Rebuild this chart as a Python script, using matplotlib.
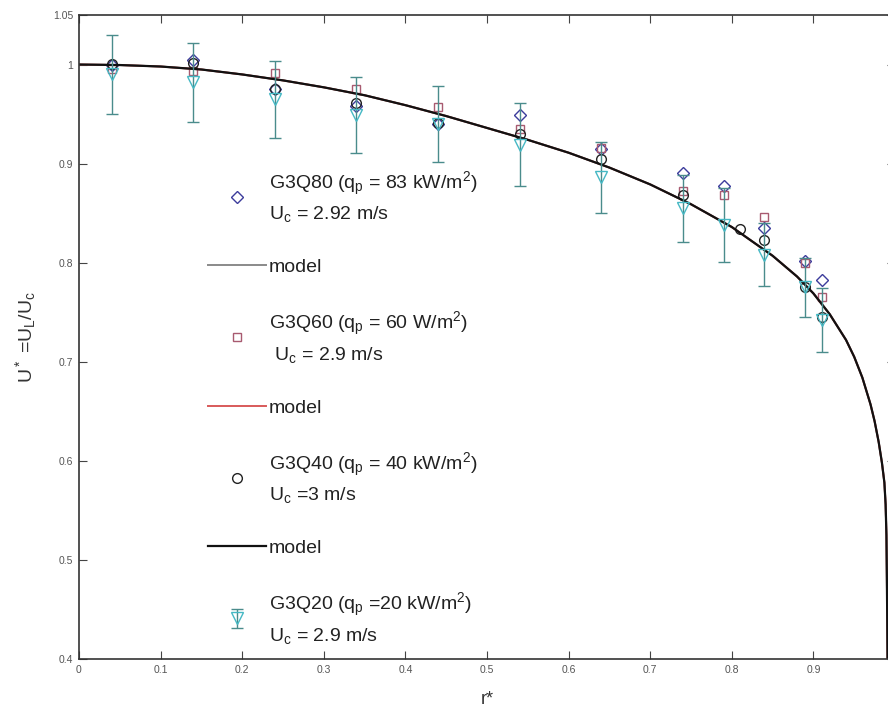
#!/usr/bin/env python3
"""Normalised liquid velocity profile U* against r* for four heat fluxes."""

import matplotlib

matplotlib.use("Agg")

import matplotlib.pyplot as plt

r_q80 = [0.04, 0.14, 0.24, 0.34, 0.44, 0.54, 0.64, 0.74, 0.79, 0.84, 0.89, 0.91]
u_q80 = [1.000, 1.005, 0.975, 0.958, 0.940, 0.949, 0.915, 0.891, 0.877, 0.835, 0.802, 0.783]

r_q60 = [0.04, 0.14, 0.24, 0.34, 0.44, 0.54, 0.64, 0.74, 0.79, 0.84, 0.89, 0.91]
u_q60 = [0.995, 0.993, 0.991, 0.975, 0.957, 0.935, 0.916, 0.872, 0.868, 0.846, 0.800, 0.765]

r_q40 = [0.04, 0.14, 0.24, 0.34, 0.44, 0.54, 0.64, 0.74, 0.81, 0.84, 0.89, 0.91]
u_q40 = [1.001, 1.002, 0.975, 0.961, 0.941, 0.930, 0.905, 0.868, 0.834, 0.823, 0.775, 0.745]

r_q20 = [0.04, 0.14, 0.24, 0.34, 0.44, 0.54, 0.64, 0.74, 0.79, 0.84, 0.89, 0.91]
u_q20 = [0.990, 0.982, 0.965, 0.949, 0.940, 0.919, 0.886, 0.855, 0.838, 0.808, 0.775, 0.742]
err_q20 = [0.040, 0.040, 0.039, 0.038, 0.038, 0.042, 0.036, 0.034, 0.037, 0.032, 0.030, 0.032]

# Model curve, sampled off the figure (same curve for all three cases)
r_model = [0.0, 0.05, 0.1, 0.15, 0.2, 0.25, 0.3, 0.35, 0.4, 0.45, 0.5, 0.55, 0.6, 0.65,
           0.7, 0.75, 0.8, 0.85, 0.88, 0.9, 0.92, 0.94, 0.95, 0.96, 0.97, 0.975, 0.98,
           0.984, 0.987, 0.9885, 0.9895, 0.990, 0.9905, 0.991]
u_model = [1.000, 0.9995, 0.998, 0.995, 0.990, 0.984, 0.977, 0.969, 0.959, 0.948,
           0.936, 0.924, 0.911, 0.896, 0.879, 0.859, 0.836, 0.807, 0.786, 0.769,
           0.748, 0.722, 0.705, 0.684, 0.657, 0.640, 0.619, 0.598, 0.578, 0.556,
           0.525, 0.485, 0.440, 0.380]

labels = [
    "G3Q80 (q$_p$ = 83 kW/m$^2$)\nU$_c$ = 2.92 m/s",
    "G3Q60 (q$_p$ = 60 W/m$^2$)\n U$_c$ = 2.9 m/s",
    "G3Q40 (q$_p$ = 40 kW/m$^2$)\nU$_c$ =3 m/s",
    "G3Q20 (q$_p$ =20 kW/m$^2$)\nU$_c$ = 2.9 m/s",
]

x_ticks = [0, 0.1, 0.2, 0.3, 0.4, 0.5, 0.6, 0.7, 0.8, 0.9]
y_ticks = [0.4, 0.5, 0.6, 0.7, 0.8, 0.9, 1.0, 1.05]
y_tick_labels = ["0.4", "0.5", "0.6", "0.7", "0.8", "0.9", "1", "1.05"]

plt.rcParams["font.family"] = ["Liberation Sans", "DejaVu Sans"]
plt.rcParams["mathtext.fontset"] = "custom"
plt.rcParams["mathtext.rm"] = "Liberation Sans"
plt.rcParams["mathtext.it"] = "Liberation Sans"
plt.rcParams["mathtext.default"] = "regular"

fig = plt.figure(figsize=(8.88, 7.09), dpi=100)
# the right spine sits just past the image edge, as in the cropped original
ax = fig.add_axes([79 / 888, 50 / 709, (895 - 79) / 888, (659 - 15) / 709])

h80, = ax.plot(r_q80, u_q80, linestyle="none", marker="D", markersize=6,
               markerfacecolor="none", markeredgecolor="#3c3c9c", markeredgewidth=1.0)
m1, = ax.plot(r_model, u_model, color="#8a8a8a", linewidth=1.4)
h60, = ax.plot(r_q60, u_q60, linestyle="none", marker="s", markersize=6,
               markerfacecolor="none", markeredgecolor="#a85a70", markeredgewidth=1.0)
m2, = ax.plot(r_model, u_model, color="#d85a5a", linewidth=1.4)
h40, = ax.plot(r_q40, u_q40, linestyle="none", marker="o", markersize=7,
               markerfacecolor="none", markeredgecolor="#222222", markeredgewidth=1.0)
m3, = ax.plot(r_model, u_model, color="#111111", linewidth=1.6)
h20 = ax.errorbar(r_q20, u_q20, yerr=err_q20, linestyle="none", marker="v", markersize=8,
                  markerfacecolor="none", markeredgecolor="#45b8c4", markeredgewidth=1.0,
                  ecolor="#4a8c8c", elinewidth=1.0, capsize=4.5, capthick=1.0)

ax.set_xlim(0, 1)
ax.set_ylim(0.4, 1.05)
ax.set_xticks(x_ticks)
ax.set_xticklabels([f"{v:g}" for v in x_ticks])
ax.set_yticks(y_ticks)
ax.set_yticklabels(y_tick_labels)
ax.tick_params(direction="in", length=6, width=0.8, top=True, right=True,
               labelsize=7.5, labelcolor="#555555", color="#444444", pad=4)
for spine in ax.spines.values():
    spine.set_color("#333333")
    spine.set_linewidth(1.2)

ax.set_xlabel("r*", fontsize=13, color="#333333", labelpad=12)
ax.set_ylabel("U$^*$ =U$_L$/U$_c$", fontsize=14, color="#333333")
ax.yaxis.set_label_coords(-0.05, 0.5)

leg = ax.legend([h80, m1, h60, m2, h40, m3, h20],
                [labels[0], "model", labels[1], "model", labels[2], "model", labels[3]],
                loc="upper left", bbox_to_anchor=(0.158, 0.760), borderaxespad=0, borderpad=0,
                frameon=False, numpoints=1, fontsize=14, labelspacing=1.75,
                handlelength=3.0, handletextpad=0.15, labelcolor="#222222")
for text in leg.get_texts():
    text.set_linespacing(1.45)

fig.savefig("out.png", dpi=100)
